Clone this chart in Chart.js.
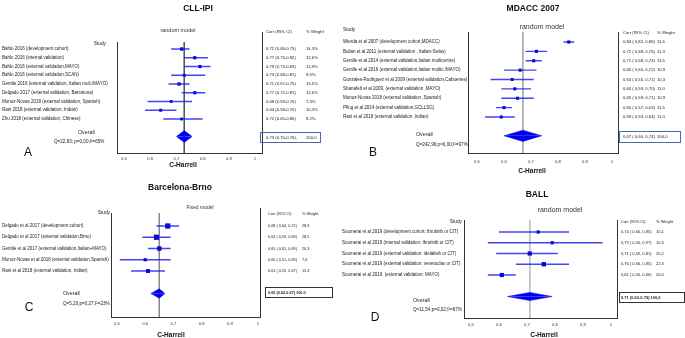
<!DOCTYPE html>
<html lang="en">
<head>
<meta charset="UTF-8">
<title>C-Harrell forest plots</title>
<script src="https://cdn.jsdelivr.net/npm/chart.js@4.4.1/dist/chart.umd.min.js"></script>
<style>
  body { margin: 0; width: 685px; height: 338px; position: relative; overflow: hidden; background: #fff;
         font-family: 'Liberation Sans', Arial, sans-serif; color: #111; }
  canvas { position: absolute; }
  .lbl { position: absolute; transform: translate(-50%, -50%); white-space: nowrap; line-height: 1; }
  .title { font-weight: bold; font-size: 8.5px; }
  .model { color: #333; }
  .letter { font-size: 12px; }
  .xtitle { font-weight: bold; font-size: 6.5px; }
</style>
</head>
<body>
<canvas id="chartA"></canvas>
<canvas id="chartB"></canvas>
<canvas id="chartC"></canvas>
<canvas id="chartD"></canvas>

<div class="lbl title" style="left:198px;top:8px">CLL-IPI</div>
<div class="lbl title" style="left:533px;top:8px">MDACC 2007</div>
<div class="lbl title" style="left:180px;top:187px">Barcelona-Brno</div>
<div class="lbl title" style="left:537px;top:194px">BALL</div>

<div class="lbl model" style="left:178px;top:31px;font-size:5.5px">random model</div>
<div class="lbl model" style="left:542px;top:26px;font-size:7px">random model</div>
<div class="lbl model" style="left:200px;top:207px;font-size:5px">Fixed model</div>
<div class="lbl model" style="left:560px;top:209px;font-size:7px">random model</div>

<div class="lbl letter" style="left:28px;top:152px">A</div>
<div class="lbl letter" style="left:373px;top:152px">B</div>
<div class="lbl letter" style="left:29px;top:307px">C</div>
<div class="lbl letter" style="left:375px;top:317px">D</div>

<div class="lbl xtitle" style="left:183px;top:165px">C-Harrell</div>
<div class="lbl xtitle" style="left:532px;top:171px">C-Harrell</div>
<div class="lbl xtitle" style="left:171px;top:335px">C-Harrell</div>
<div class="lbl xtitle" style="left:544px;top:335px">C-Harrell</div>

<script>
// x axis ticks shared by all four panels
const harrellTicks = [0.5, 0.6, 0.7, 0.8, 0.9, 1];
const harrellTickLabels = ['0,5', '0,6', '0,7', '0,8', '0,9', '1'];

// A - CLL-IPI
const cllStudies = ['Bahlo 2016 (development cohort)', 'Bahlo 2016 (internal validation)',
  'Bahlo 2016 (external validation,MAYO)', 'Bahlo 2016 (external validation,SCAN)',
  'Gentile 2016 (external validation, Italian mult./MAYO)', 'Delgado 2017 (external validation, Barcelona)',
  'Munoz-Novas 2018 (external validation, Spanish)', 'Rani 2018 (external validation, Indian)',
  'Zhu 2018 (external validation, Chinese)'];
const cllCorr = [0.72, 0.77, 0.79, 0.73, 0.71, 0.77, 0.68, 0.64, 0.72];
const cllLow = [0.68, 0.73, 0.73, 0.68, 0.67, 0.72, 0.59, 0.58, 0.65];
const cllHigh = [0.75, 0.82, 0.83, 0.81, 0.75, 0.81, 0.76, 0.70, 0.80];
const cllWeight = [14.3, 12.6, 11.8, 9.5, 13.5, 12.6, 7.3, 10.3, 8.2];
const cllOverall = [0.73, 0.70, 0.76];
const cllHet = 'Q=22,83; p=0,00;I²=65%';

// B - MDACC 2007
const mdaStudies = ['Wierda et al 2007 (development cohort,MDACC)', 'Bulian et al 2011 (external validation , Italian-Swiss)',
  'Gentile et al 2014 (external validation,Italian multicentre)', 'Gentile et al 2016 (external validation,Italian multic./MAYO)',
  'Gonzales-Rodriguez et al 2009 (external validation,Cabuenes)', 'Shanafelt et al 2009, (external validation ,MAYO)',
  'Munoz-Novas 2018 (external validation ,Spanish)', 'Pflug et al 2014 (external validation,GCLLSG)',
  'Rani et al 2018 (external validation ,Indian)'];
const mdaCorr = [0.84, 0.72, 0.71, 0.66, 0.63, 0.64, 0.65, 0.60, 0.59];
const mdaLow = [0.82, 0.68, 0.68, 0.60, 0.55, 0.59, 0.59, 0.57, 0.53];
const mdaHigh = [0.86, 0.76, 0.74, 0.72, 0.71, 0.70, 0.71, 0.63, 0.64];
const mdaWeight = [11.6, 11.3, 11.5, 10.9, 10.3, 11.0, 10.9, 11.5, 11.0];
const mdaOverall = [0.67, 0.60, 0.74];
const mdaHet = 'Q=242,96;p=0,00;I²=97%';

// C - Barcelona-Brno
const bbStudies = ['Delgado et al 2017 (development cohort)', 'Delgado et al 2017 (external validation,Brno)',
  'Gentile et al 2017 (external validation,Italian+MAYO)', 'Munoz-Novas et al 2018 (external validation,Spanish)',
  'Rani et al 2018 (external validation, Indian)'];
const bbCorr = [0.68, 0.64, 0.65, 0.60, 0.61];
const bbLow = [0.64, 0.59, 0.61, 0.51, 0.55];
const bbHigh = [0.72, 0.69, 0.69, 0.69, 0.67];
const bbWeight = [28.3, 28.5, 20.3, 7.6, 15.3];
const bbOverall = [0.65, 0.62, 0.67];
const bbHet = 'Q=5,20;p=0,27;I²=23%';

// D - BALL
const ballStudies = ['Soumerai et al 2019 (development cohort: Ibrutinib or CIT)', 'Soumerai et al 2019 (internal validation: Ibrutinib or CIT)',
  'Soumerai et al 2019 (external validation: idelalisib or CIT)', 'Soumerai et al 2019 (external validation: venetoclax or CIT)',
  'Soumerai et al 2019  (external validation: MAYO)'];
const ballCorr = [0.74, 0.79, 0.71, 0.76, 0.61];
const ballLow = [0.60, 0.56, 0.59, 0.66, 0.56];
const ballHigh = [0.85, 0.97, 0.81, 0.85, 0.66];
const ballWeight = [10.1, 10.3, 20.2, 22.3, 20.0];
const ballOverall = [0.71, 0.63, 0.79];
const ballHet = 'Q=11,54;p=0,02;I²=67%';

const SMALL = "'Liberation Sans', Arial, sans-serif";

const comma = (v, d = 2) => v.toFixed(d).replace('.', ',');
const dotCI = (c, lo, hi) => `${c.toFixed(2)} (${lo.toFixed(2)}-${hi.toFixed(2)})`;
const barCI = (c, lo, hi) => `${comma(c)} ( ${comma(lo)}, ${comma(hi)})`;

// draws right-hand columns, overall row text and the right frame line
const forestText = {
  id: 'forestText',
  afterDraw(chart) {
    const o = chart.options.plugins.forestText;
    if (!o) return;
    const ctx = chart.ctx;
    const ys = chart.scales.y;
    const area = chart.chartArea;
    const dx = o.origin[0], dy = o.origin[1];
    ctx.save();
    ctx.strokeStyle = '#333';
    ctx.lineWidth = 1;
    ctx.beginPath();
    ctx.moveTo(Math.round(area.right) + 0.5, o.borderTop - dy);
    ctx.lineTo(Math.round(area.right) + 0.5, area.bottom);
    ctx.stroke();

    ctx.fillStyle = '#1a1a1a';
    ctx.textBaseline = 'middle';
    ctx.textAlign = 'left';
    ctx.font = o.colSize + 'px ' + SMALL;
    ctx.fillText('Corr (95% CI)', o.corrX - dx, o.headY - dy);
    ctx.fillText('% Weight', o.weightX - dx, o.headY - dy);
    o.corrText.forEach((t, i) => {
      const py = ys.getPixelForValue(i + 1);
      ctx.fillText(t, o.corrX - dx, py);
      ctx.fillText(o.weightText[i], o.weightX - dx, py);
    });

    // overall box
    const [bx, by, bw, bh] = o.box;
    ctx.strokeStyle = o.boxColor;
    ctx.strokeRect(bx - dx + 0.5, by - dy + 0.5, bw, bh);
    ctx.font = (o.boxBold ? 'bold ' : '') + o.colSize + 'px ' + SMALL;
    ctx.fillText(o.overallCorr, o.corrX - dx, by + bh / 2 - dy + 0.5);
    if (o.overallWeight) ctx.fillText(o.overallWeight, o.weightX - dx, by + bh / 2 - dy + 0.5);

    // left side texts
    ctx.font = '4.8px ' + SMALL;
    ctx.textAlign = o.studyHead.align;
    ctx.fillText('Study', o.studyHead.x - dx, o.studyHead.y - dy);
    ctx.textAlign = 'left';
    ctx.font = '5.3px ' + SMALL;
    ctx.fillText('Overall', o.overallLabel[0] - dx, o.overallLabel[1] - dy);
    ctx.font = '4.6px ' + SMALL;
    ctx.fillText(o.het, o.hetPos[0] - dx, o.hetPos[1] - dy);
    ctx.restore();
  }
};

function makeForest(id, p) {
  const canvas = document.getElementById(id);
  const [cx, cy, cw, ch] = p.box;
  canvas.width = cw;
  canvas.height = ch;
  canvas.style.left = cx + 'px';
  canvas.style.top = cy + 'px';
  canvas.style.width = cw + 'px';
  canvas.style.height = ch + 'px';

  const n = p.studies.length;
  const ovRow = n + 2;
  const ppu = (p.x10 - p.x05) / 0.5;
  const xMin = 0.5 - (p.x05 - p.area.L) / ppu;
  const xMax = 1 + (p.area.R - p.x10) / ppu;
  const yMin = 1 - (p.firstRow - p.area.T) / p.rowGap;
  const yMax = 1 + (p.area.B - p.firstRow) / p.rowGap;

  const ciPts = [];
  p.low.forEach((lo, i) => {
    ciPts.push({ x: lo, y: i + 1 }, { x: p.high[i], y: i + 1 }, { x: null, y: null });
  });
  const [est, olo, ohi] = p.overall;
  const h = p.diamondHalf;

  new Chart(canvas, {
    type: 'scatter',
    data: {
      datasets: [
        {
          type: 'scatter',
          data: p.corr.map((c, i) => ({ x: c, y: i + 1 })),
          pointStyle: 'rect',
          pointRadius: p.weight.map(w => (p.markBase + w * p.markScale) / Math.SQRT2),
          backgroundColor: '#0a0ad2',
          borderWidth: 0
        },
        {
          type: 'line',
          data: ciPts,
          borderColor: 'rgba(35, 35, 245, 0.85)',
          borderWidth: 1.3,
          pointRadius: 0,
          spanGaps: false
        },
        {
          type: 'line',
          data: [{ x: olo, y: ovRow }, { x: est, y: ovRow - h }, { x: ohi, y: ovRow }],
          borderColor: '#0000f0', borderWidth: 0.5, backgroundColor: '#0000f0',
          pointRadius: 0, tension: 0, fill: { value: ovRow }
        },
        {
          type: 'line',
          data: [{ x: olo, y: ovRow }, { x: est, y: ovRow + h }, { x: ohi, y: ovRow }],
          borderColor: '#0000f0', borderWidth: 0.5, backgroundColor: '#0000f0',
          pointRadius: 0, tension: 0, fill: { value: ovRow }
        },
        {
          type: 'line',
          data: [{ x: est, y: yMin }, { x: est, y: yMax }],
          borderColor: p.refColor,
          borderWidth: 1,
          pointRadius: 0
        }
      ]
    },
    options: {
      responsive: false,
      animation: false,
      layout: {
        padding: { left: p.labelX - cx, top: p.area.T - cy, right: cx + cw - p.area.R, bottom: 0 }
      },
      plugins: {
        legend: { display: false },
        tooltip: { enabled: false },
        forestText: {
          origin: [cx, cy],
          borderTop: p.borderTop,
          colSize: p.colSize,
          corrX: p.corrX, weightX: p.weightX, headY: p.headY,
          corrText: p.corr.map((c, i) => p.fmt(c, p.low[i], p.high[i])),
          weightText: p.weight.map(p.wfmt),
          overallCorr: p.overallCorr, overallWeight: p.overallWeight,
          box: p.ovBox, boxColor: p.boxColor, boxBold: p.boxBold,
          studyHead: p.studyHead, overallLabel: p.overallLabel,
          het: p.het, hetPos: p.hetPos
        }
      },
      scales: {
        x: {
          type: 'linear',
          min: xMin, max: xMax,
          grid: { display: false, drawTicks: false },
          border: { display: true, color: '#333', width: 1 },
          afterBuildTicks: s => { s.ticks = harrellTicks.map(v => ({ value: v })); },
          afterFit: s => { s.height = cy + ch - p.area.B; },
          ticks: {
            autoSkip: false, maxRotation: 0, padding: p.tickPad, color: '#333',
            font: { family: SMALL, size: 4.2 },
            callback: (v, i) => harrellTickLabels[i]
          }
        },
        y: {
          type: 'linear',
          reverse: true,
          min: yMin, max: yMax,
          grid: { display: false, drawTicks: false },
          border: { display: true, color: '#333', width: 1 },
          afterBuildTicks: s => { s.ticks = p.studies.map((t, i) => ({ value: i + 1 })); },
          afterFit: s => { s.width = p.area.L - p.labelX; },
          ticks: {
            autoSkip: false, padding: 0, crossAlign: 'far', color: '#1a1a1a',
            font: { family: SMALL, size: 4.5 },
            callback: v => p.studies[Math.round(v) - 1] || ''
          }
        }
      }
    },
    plugins: [forestText]
  });
}

makeForest('chartA', {
  box: [0, 0, 340, 170], area: { L: 117, R: 262, T: 42, B: 153 }, x05: 124, x10: 255,
  firstRow: 49, rowGap: 8.75, labelX: 2, borderTop: 32, tickPad: 3,
  studies: cllStudies, corr: cllCorr, low: cllLow, high: cllHigh, weight: cllWeight, overall: cllOverall,
  fmt: dotCI, wfmt: w => comma(w, 1) + '%',
  overallCorr: dotCI(...cllOverall) + ',', overallWeight: '100,0',
  corrX: 266, weightX: 306, headY: 32, colSize: 4.2,
  ovBox: [260, 132, 60, 10], boxColor: '#4a6aa8', boxBold: false,
  studyHead: { x: 106, y: 44, align: 'right' }, overallLabel: [78, 133], het: cllHet, hetPos: [54, 142],
  diamondHalf: 0.68, refColor: '#555', markBase: 2.2, markScale: 0.08
});

makeForest('chartB', {
  box: [340, 0, 345, 176], area: { L: 468, R: 618, T: 32, B: 153 }, x05: 477, x10: 612,
  firstRow: 42, rowGap: 9.375, labelX: 343, borderTop: 32, tickPad: 6,
  studies: mdaStudies, corr: mdaCorr, low: mdaLow, high: mdaHigh, weight: mdaWeight, overall: mdaOverall,
  fmt: barCI, wfmt: w => comma(w, 1),
  overallCorr: barCI(...mdaOverall), overallWeight: '100,0',
  corrX: 623, weightX: 657, headY: 33, colSize: 4.2,
  ovBox: [619, 131, 61, 11], boxColor: '#4a6aa8', boxBold: false,
  studyHead: { x: 343, y: 30, align: 'left' }, overallLabel: [416, 135], het: mdaHet, hetPos: [416, 145],
  diamondHalf: 0.6, refColor: '#aaa', markBase: 2.0, markScale: 0.1
});

makeForest('chartC', {
  box: [0, 170, 340, 168], area: { L: 111, R: 260, T: 213, B: 317 }, x05: 117, x10: 258,
  firstRow: 226, rowGap: 11.25, labelX: 2, borderTop: 208, tickPad: 4,
  studies: bbStudies, corr: bbCorr, low: bbLow, high: bbHigh, weight: bbWeight, overall: bbOverall,
  fmt: barCI, wfmt: w => comma(w, 1),
  overallCorr: dotCI(...bbOverall) + ' 100,0', overallWeight: '',
  corrX: 268, weightX: 302, headY: 214, colSize: 3.8,
  ovBox: [265, 287, 67, 10], boxColor: '#333', boxBold: true,
  studyHead: { x: 110, y: 213, align: 'right' }, overallLabel: [63, 294], het: bbHet, hetPos: [63, 304],
  diamondHalf: 0.42, refColor: '#888', markBase: 2.4, markScale: 0.1
});

makeForest('chartD', {
  box: [340, 170, 345, 168], area: { L: 464, R: 617, T: 220, B: 318 }, x05: 471, x10: 611,
  firstRow: 232, rowGap: 10.75, labelX: 342, borderTop: 220, tickPad: 4,
  studies: ballStudies, corr: ballCorr, low: ballLow, high: ballHigh, weight: ballWeight, overall: ballOverall,
  fmt: barCI, wfmt: w => comma(w, 1),
  overallCorr: dotCI(...ballOverall) + ' 100,0', overallWeight: '',
  corrX: 621, weightX: 656, headY: 222, colSize: 4,
  ovBox: [619, 292, 65, 10], boxColor: '#333', boxBold: true,
  studyHead: { x: 462, y: 222, align: 'right' }, overallLabel: [413, 301], het: ballHet, hetPos: [413, 310],
  diamondHalf: 0.38, refColor: '#bbb', markBase: 2.2, markScale: 0.1
});
</script>
</body>
</html>
